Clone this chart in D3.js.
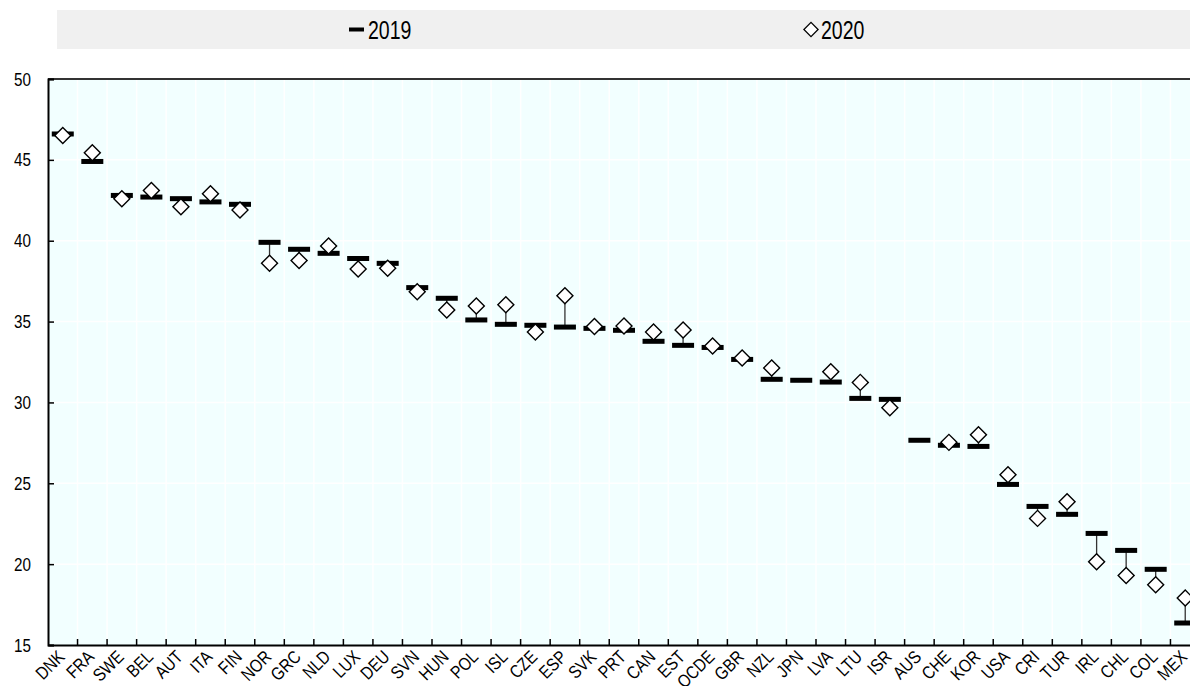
<!DOCTYPE html>
<html><head><meta charset="utf-8">
<script src="https://cdn.jsdelivr.net/npm/d3@7"></script>
<style>
html,body{margin:0;padding:0;background:#fff;overflow:hidden;}
svg{display:block;}
text{font-family:"Liberation Sans",Arial,sans-serif;fill:#000;}
</style></head>
<body>
<script>
const countries = ["DNK","FRA","SWE","BEL","AUT","ITA","FIN","NOR","GRC","NLD","LUX","DEU","SVN","HUN","POL","ISL","CZE","ESP","SVK","PRT","CAN","EST","OCDE","GBR","NZL","JPN","LVA","LTU","ISR","AUS","CHE","KOR","USA","CRI","TUR","IRL","CHL","COL","MEX"];
const v2019 = [46.6,44.9,42.8,42.7,42.6,42.4,42.25,39.9,39.47,39.22,38.9,38.6,37.1,36.44,35.1,34.83,34.77,34.66,34.58,34.46,33.78,33.53,33.4,32.66,31.43,31.37,31.26,30.25,30.19,27.66,27.35,27.28,24.93,23.57,23.08,21.9,20.85,19.68,16.36];
const v2020 = [46.5,45.44,42.6,43.1,42.1,42.9,41.9,38.6,38.77,39.67,38.25,38.3,36.85,35.72,35.96,36.04,34.35,36.6,34.7,34.72,34.35,34.48,33.49,32.75,32.13,null,31.9,31.24,29.67,null,27.53,28.0,25.53,22.83,23.86,20.15,19.3,18.73,17.9];
const yTicks = [15,20,25,30,35,40,45,50];
const seriesNames = ["2019","2020"];

const W = 1190, H = 686;
const L = 48, R = 1200, T = 79, B = 645;
const NARROW = 0.8;
const svg = d3.select("body").append("svg").attr("width", W).attr("height", H);

const x = d3.scaleBand().domain(countries).range([L, R]).padding(0);
const y = d3.scaleLinear().domain([15, 50]).range([B, T]);

// legend
svg.append("rect").attr("x", 57).attr("y", 10).attr("width", 1200).attr("height", 39).attr("fill", "#f0f0f0");
svg.append("rect").attr("x", 349).attr("y", 27.5).attr("width", 15).attr("height", 4).attr("fill", "#000");
svg.append("text").attr("transform", "translate(368,38.5) scale(0.75,1)").attr("font-size", 26).text(seriesNames[0]);
svg.append("path").attr("d", d3.symbol(d3.symbolSquare, 100)()).attr("transform", "translate(811,29.5) rotate(45)")
  .attr("fill", "#fff").attr("stroke", "#000").attr("stroke-width", 1.3);
svg.append("text").attr("transform", "translate(821,38.5) scale(0.75,1)").attr("font-size", 26).text(seriesNames[1]);

// plot background
svg.append("rect").attr("x", L).attr("y", T).attr("width", R - L).attr("height", B - T).attr("fill", "#f2ffff");

// gridlines
svg.append("g").selectAll("line").data(yTicks.slice(1, -1)).join("line")
  .attr("x1", L).attr("x2", R).attr("y1", d => y(d)).attr("y2", d => y(d))
  .attr("stroke", "#fff").attr("stroke-width", 1.5);
svg.append("g").selectAll("line").data(countries.slice(1)).join("line")
  .attr("x1", d => x(d)).attr("x2", d => x(d)).attr("y1", T).attr("y2", B)
  .attr("stroke", "#fff").attr("stroke-width", 1.5);

// top border
svg.append("line").attr("x1", L).attr("x2", R).attr("y1", T).attr("y2", T).attr("stroke", "#333").attr("stroke-width", 2);

// y axis
const yAxis = svg.append("g").attr("transform", `translate(${L},0)`)
  .call(d3.axisLeft(y).tickValues(yTicks).tickSize(-6).tickPadding(17).tickFormat(d3.format("d")));
yAxis.select(".domain").attr("stroke", "#000").attr("stroke-width", 2);
yAxis.selectAll(".tick line").attr("stroke", "#000").attr("stroke-width", 1.5);
yAxis.selectAll("text").attr("font-size", 19).attr("font-family", null)
  .attr("x", -17 / NARROW).attr("transform", `scale(${NARROW},1)`);

// x axis
const xAxis = svg.append("g").attr("transform", `translate(0,${B})`)
  .call(d3.axisBottom(x).tickSize(0).tickPadding(0));
xAxis.select(".domain").attr("stroke", "#000").attr("stroke-width", 2);
xAxis.selectAll("text").attr("font-size", 18).attr("font-family", null)
  .attr("text-anchor", "end").attr("dy", 0).attr("y", 0)
  .attr("transform", `translate(3,13) rotate(-45) scale(${NARROW + 0.05},1)`);
svg.append("g").selectAll("line").data(countries.slice(1)).join("line")
  .attr("x1", d => x(d)).attr("x2", d => x(d)).attr("y1", B).attr("y2", B - 6)
  .attr("stroke", "#000").attr("stroke-width", 1.5);

const bw = x.bandwidth();
const idx = d3.range(countries.length);

// connectors
svg.append("g").selectAll("line").data(idx.filter(i => v2020[i] != null)).join("line")
  .attr("x1", i => x(countries[i]) + bw / 2).attr("x2", i => x(countries[i]) + bw / 2)
  .attr("y1", i => y(v2019[i])).attr("y2", i => y(v2020[i]))
  .attr("stroke", "#333").attr("stroke-width", 1.3);

// 2019 bars
svg.append("g").selectAll("rect").data(idx).join("rect")
  .attr("x", i => x(countries[i]) + bw / 2 - 11).attr("y", i => y(v2019[i]) - 2.5)
  .attr("width", 22).attr("height", 5).attr("fill", "#000");

// 2020 diamonds
svg.append("g").selectAll("path").data(idx.filter(i => v2020[i] != null)).join("path")
  .attr("d", d3.symbol(d3.symbolSquare, 128)())
  .attr("transform", i => `translate(${x(countries[i]) + bw / 2},${y(v2020[i])}) rotate(45)`)
  .attr("fill", "#fff").attr("stroke", "#000").attr("stroke-width", 1.4);
</script>
</body></html>
